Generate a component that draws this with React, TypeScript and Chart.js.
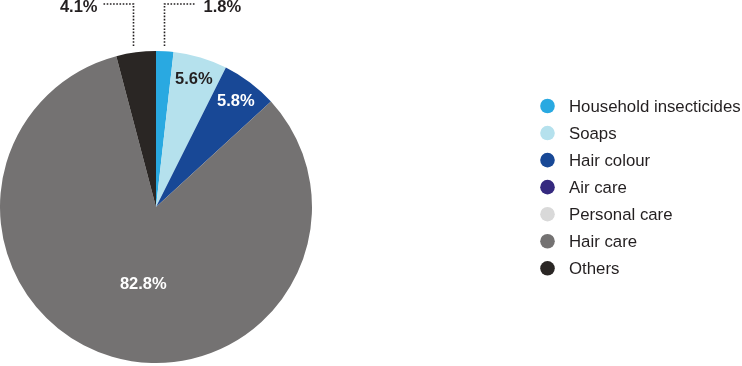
import React, { useEffect, useRef } from "react";
import { Chart, registerables } from "chart.js";

Chart.register(...registerables);

const categories = [
  "Household insecticides",
  "Soaps",
  "Hair colour",
  "Air care",
  "Personal care",
  "Hair care",
  "Others",
];
const shares = [1.8, 5.6, 5.8, 0, 0, 82.8, 4.1];
const valueLabels = ["1.8%", "5.6%", "5.8%", "", "", "82.8%", "4.1%"];
const sliceColors = ["#29a9e1", "#b5e1ed", "#184896", "#35297f", "#d9d9d9", "#747272", "#2a2624"];
const labelColors = ["#231f20", "#231f20", "#ffffff", "", "", "#ffffff", "#231f20"];
// "in" = inside the slice, "right"/"left" = outside with a dotted leader
const labelPlacement = ["right", "in", "in", "none", "none", "in", "left"];
const labelRadius = [1, 0.85, 0.85, 0, 0, 0.5, 1];
const labelShiftDeg = [0, 0, 0, 0, 0, -7, 0];

const FONT = "'Liberation Sans', Arial, Helvetica, sans-serif";

const labelPlugin = {
  id: "sliceLabels",
  afterDraw(chart: any) {
    const ctx = chart.ctx as CanvasRenderingContext2D;
    const meta = chart.getDatasetMeta(0);
    ctx.save();
    meta.data.forEach((arc: any, i: number) => {
      const place = labelPlacement[i];
      if (place === "none" || !valueLabels[i]) return;
      const p = arc.getProps(["x", "y", "startAngle", "endAngle", "outerRadius"], true);
      const mid = (p.startAngle + p.endAngle) / 2 + (labelShiftDeg[i] * Math.PI) / 180;
      ctx.font = `bold 16.5px ${FONT}`;
      ctx.fillStyle = labelColors[i];
      if (place === "in") {
        const d = p.outerRadius * labelRadius[i];
        ctx.textAlign = "center";
        ctx.textBaseline = "middle";
        ctx.fillText(valueLabels[i], p.x + d * Math.cos(mid), p.y + d * Math.sin(mid));
      } else {
        const lx = Math.round(p.x + p.outerRadius * Math.cos(mid)) + (place === "left" ? -2.5 : -0.5);
        const yBottom = p.y - p.outerRadius - 5;
        const yTop = 4;
        ctx.strokeStyle = "#231f20";
        ctx.lineWidth = 1.6;
        ctx.setLineDash([1.6, 1.6]);
        const dir = place === "left" ? -1 : 1;
        ctx.beginPath();
        ctx.moveTo(lx, yBottom);
        ctx.lineTo(lx, yTop);
        ctx.lineTo(lx + dir * 31, yTop);
        ctx.stroke();
        ctx.setLineDash([]);
        ctx.textBaseline = "middle";
        ctx.textAlign = place === "left" ? "right" : "left";
        ctx.fillText(valueLabels[i], lx + dir * (place === "left" ? 36 : 39), 7.5);
      }
    });

    // legend
    ctx.font = `16.8px ${FONT}`;
    ctx.textAlign = "left";
    ctx.textBaseline = "middle";
    categories.forEach((c, i) => {
      const cy = 106 + i * 27.05;
      ctx.beginPath();
      ctx.fillStyle = sliceColors[i];
      ctx.arc(547.5, cy, 7.3, 0, Math.PI * 2);
      ctx.fill();
      ctx.fillStyle = "#231f20";
      ctx.fillText(c, 569, cy + 1);
    });
    ctx.restore();
  },
};

export default function App() {
  const ref = useRef<HTMLCanvasElement | null>(null);
  useEffect(() => {
    if (!ref.current) return;
    const chart = new Chart(ref.current, {
      type: "pie",
      data: {
        labels: categories,
        datasets: [
          {
            data: shares,
            backgroundColor: sliceColors,
            borderWidth: 0,
            hoverOffset: 0,
          },
        ],
      },
      options: {
        responsive: false,
        animation: false,
        events: [],
        layout: { padding: { left: 0, right: 430, top: 51, bottom: 3 } },
        plugins: {
          legend: { display: false },
          tooltip: { enabled: false },
        },
      },
      plugins: [labelPlugin],
    });
    return () => chart.destroy();
  }, []);
  return (
    <div style={{ position: "absolute", left: 0, top: 0, width: 742, height: 366, background: "#fff" }}>
      <canvas ref={ref} width={742} height={366} style={{ display: "block" }} />
    </div>
  );
}
